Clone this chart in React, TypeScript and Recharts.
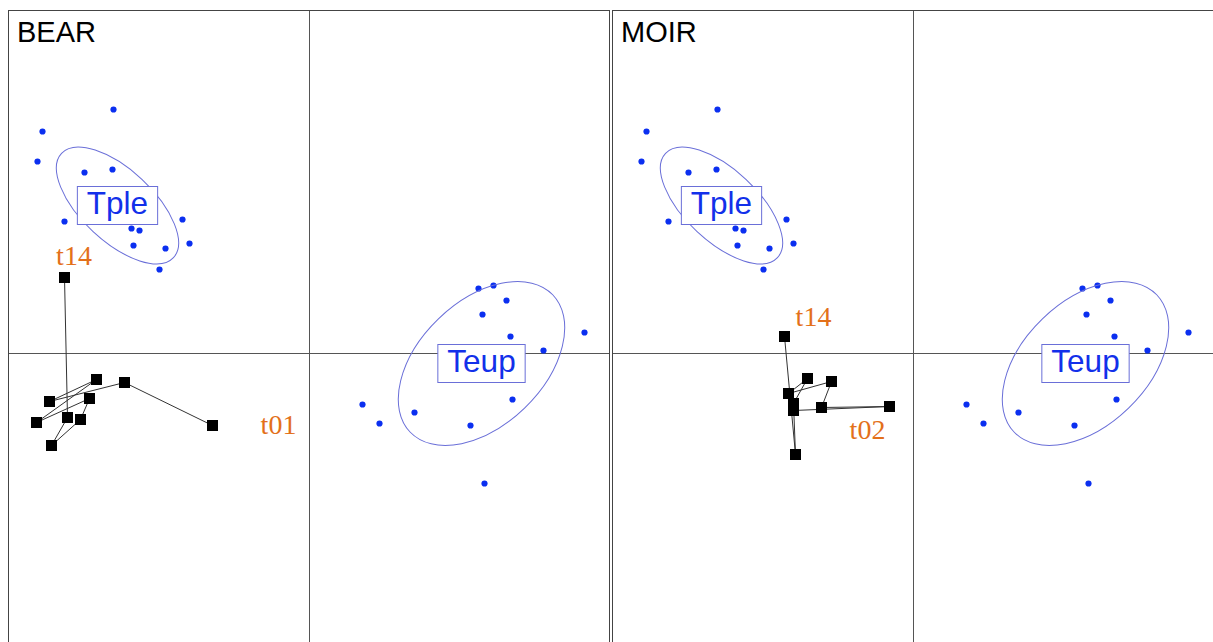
import React from "react";
import {
  ScatterChart,
  Scatter,
  XAxis,
  YAxis,
  ReferenceLine,
  ReferenceDot,
} from "recharts";

// ordination space shared by both panels
const X_DOMAIN: [number, number] = [-3.005, 2.995];
const Y_DOMAIN: [number, number] = [-3.415, 3.425];
const PLOT_W = 600;
const PLOT_H = 684;
const PX = PLOT_W / (X_DOMAIN[1] - X_DOMAIN[0]);

const tplePoints = [
  { x: -1.96, y: 2.44 },
  { x: -2.67, y: 2.22 },
  { x: -2.72, y: 1.92 },
  { x: -2.25, y: 1.81 },
  { x: -1.97, y: 1.84 },
  { x: -2.45, y: 1.32 },
  { x: -1.78, y: 1.25 },
  { x: -1.7, y: 1.23 },
  { x: -1.27, y: 1.34 },
  { x: -1.2, y: 1.1 },
  { x: -1.76, y: 1.08 },
  { x: -1.44, y: 1.05 },
  { x: -1.5, y: 0.84 },
];

const teupPoints = [
  { x: 1.69, y: 0.65 },
  { x: 1.84, y: 0.68 },
  { x: 1.97, y: 0.53 },
  { x: 1.73, y: 0.39 },
  { x: 2.01, y: 0.17 },
  { x: 2.75, y: 0.21 },
  { x: 2.34, y: 0.03 },
  { x: 2.03, y: -0.46 },
  { x: 0.53, y: -0.51 },
  { x: 1.05, y: -0.59 },
  { x: 0.7, y: -0.7 },
  { x: 1.61, y: -0.72 },
  { x: 1.75, y: -1.3 },
];

// centre, semi-axes and tilt (degrees, screen clockwise) of each group ellipse
const groupEllipses = [
  { name: "Tple", x: -1.92, y: 1.48, a: 0.765, b: 0.358, angle: 43 },
  { name: "Teup", x: 1.72, y: -0.1, a: 0.99, b: 0.62, angle: -44 },
];

const bearPath = [
  { x: -0.97, y: -0.72 },
  { x: -1.85, y: -0.29 },
  { x: -2.6, y: -0.48 },
  { x: -2.13, y: -0.26 },
  { x: -2.73, y: -0.69 },
  { x: -2.2, y: -0.45 },
  { x: -2.29, y: -0.66 },
  { x: -2.58, y: -0.92 },
  { x: -2.42, y: -0.64 },
  { x: -2.45, y: 0.76 },
];

const bearLabels = [
  { text: "t14", x: -2.355, y: 0.89 },
  { text: "t01", x: -0.31, y: -0.8 },
];

const moirPath = [
  { x: -1.2, y: -0.57 },
  { x: -0.24, y: -0.53 },
  { x: -0.92, y: -0.54 },
  { x: -0.82, y: -0.28 },
  { x: -1.25, y: -0.4 },
  { x: -1.06, y: -0.25 },
  { x: -1.2, y: -0.5 },
  { x: -1.18, y: -1.01 },
  { x: -1.29, y: 0.17 },
];

const moirLabels = [
  { text: "t14", x: -1.0, y: 0.28 },
  { text: "t02", x: -0.46, y: -0.85 },
];

const BLUE = "#0b2ff0";
const ELLIPSE = "#6a6fd8";
const ORANGE = "#e3701a";
const GROUP_FONT = 31.5;

function textWidth(s: string) {
  try {
    const ctx = document.createElement("canvas").getContext("2d");
    if (ctx) {
      ctx.font = `${GROUP_FONT}px "Liberation Sans"`;
      return ctx.measureText(s).width;
    }
  } catch (e) {}
  return s.length * GROUP_FONT * 0.5;
}

const dot = (p: any) => <circle cx={p.cx} cy={p.cy} r={3.1} fill={BLUE} />;
const square = (p: any) => (
  <rect x={p.cx - 5.5} y={p.cy - 5.5} width={11} height={11} fill="#000" />
);

function GroupShape({ cx, cy, g }: any) {
  const w = textWidth(g.name) + 19;
  return (
    <g>
      <ellipse
        cx={cx}
        cy={cy}
        rx={g.a * PX}
        ry={g.b * PX}
        transform={`rotate(${g.angle} ${cx} ${cy})`}
        fill="none"
        stroke={ELLIPSE}
        strokeWidth={1}
      />
      <rect x={cx - w / 2} y={cy - 19} width={w} height={38} fill="#fff" stroke={ELLIPSE} strokeWidth={1} />
      <text
        x={cx}
        y={cy + 8}
        textAnchor="middle"
        fontFamily="'Liberation Sans', Arial, sans-serif"
        fontSize={GROUP_FONT}
        fill="#1230ea"
      >
        {g.name}
      </text>
    </g>
  );
}

function Panel({ title, left, path, labels }: any) {
  return (
    <div
      style={{
        position: "absolute",
        left,
        top: 10,
        width: PLOT_W,
        height: PLOT_H,
        border: "1px solid #444",
        background: "#fff",
      }}
    >
      <ScatterChart width={PLOT_W} height={PLOT_H} margin={{ top: 0, right: 0, bottom: 0, left: 0 }}>
        <XAxis type="number" dataKey="x" domain={X_DOMAIN} hide allowDataOverflow />
        <YAxis type="number" dataKey="y" domain={Y_DOMAIN} hide allowDataOverflow />
        <ReferenceLine x={0} stroke="#555" strokeWidth={1} />
        <ReferenceLine y={0} stroke="#555" strokeWidth={1} />
        <Scatter data={[...tplePoints, ...teupPoints]} shape={dot} isAnimationActive={false} />
        {groupEllipses.map((g) => (
          <ReferenceDot
            key={g.name}
            x={g.x}
            y={g.y}
            r={1}
            ifOverflow="visible"
            shape={(p: any) => <GroupShape cx={p.cx} cy={p.cy} g={g} />}
          />
        ))}
        <Scatter
          data={path}
          line={{ stroke: "#333", strokeWidth: 1 }}
          lineJointType="linear"
          shape={square}
          isAnimationActive={false}
        />
        {labels.map((l: any) => (
          <ReferenceDot
            key={l.text}
            x={l.x}
            y={l.y}
            r={1}
            ifOverflow="visible"
            shape={(p: any) => (
              <text
                x={p.cx}
                y={p.cy}
                textAnchor="middle"
                fontFamily="'Liberation Serif', 'Times New Roman', serif"
                fontSize={28}
                fill={ORANGE}
              >
                {l.text}
              </text>
            )}
          />
        ))}
      </ScatterChart>
      <div
        style={{
          position: "absolute",
          left: 8,
          top: 7,
          fontFamily: "'Liberation Sans', Arial, sans-serif",
          fontSize: 29,
          lineHeight: "29px",
          color: "#000",
        }}
      >
        {title}
      </div>
    </div>
  );
}

export default function App() {
  return (
    <div
      style={{
        position: "fixed",
        left: 0,
        top: 0,
        width: 1213,
        height: 642,
        overflow: "hidden",
        background: "#fff",
      }}
    >
      <Panel title="BEAR" left={8} path={bearPath} labels={bearLabels} />
      <Panel title="MOIR" left={612} path={moirPath} labels={moirLabels} />
    </div>
  );
}
